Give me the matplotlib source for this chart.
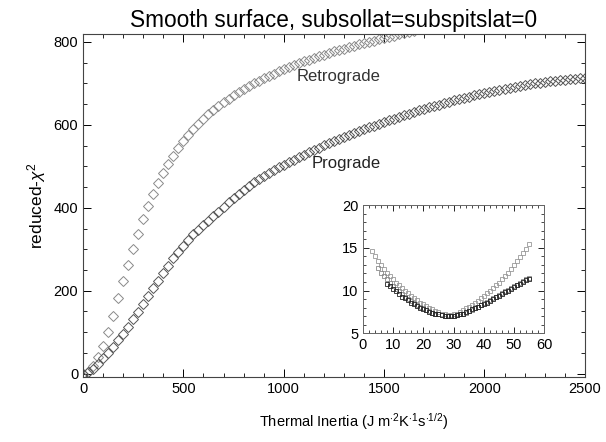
import numpy as np
import matplotlib
matplotlib.use("Agg")
import matplotlib.pyplot as plt
from matplotlib.ticker import MultipleLocator

plt.rcParams['font.family'] = ['Liberation Sans', 'DejaVu Sans']
plt.rcParams['mathtext.fontset'] = 'custom'
plt.rcParams['mathtext.rm'] = 'Liberation Sans'
plt.rcParams['mathtext.it'] = 'Liberation Sans:italic'

# Thermal inertia grid of the main panel
ti = np.arange(0, 2501, 25)

prograde = [
    0, 4, 12, 24, 38, 50, 65, 81, 96, 113,
    131, 149, 168, 187, 206, 224, 243, 260, 278, 294,
    309, 323, 336, 347, 358, 369, 380, 391, 402, 413,
    424, 434, 444, 453, 461, 469, 477, 484, 491, 498,
    504, 510, 516, 522, 528, 534, 540, 545, 551, 556,
    561, 566, 571, 576, 581, 585, 590, 594, 598, 603,
    607, 611, 615, 619, 623, 627, 631, 635, 639, 642,
    646, 649, 653, 656, 659, 662, 665, 668, 671, 674,
    677, 680, 682, 685, 687, 690, 692, 694, 696, 698,
    700, 702, 703, 705, 706, 708, 709, 710, 711, 712, 713,
]

ti_retro = np.arange(0, 1651, 25)
retrograde = [
    0, 5, 18, 40, 68, 100, 140, 183, 224, 262,
    300, 338, 372, 404, 433, 460, 485, 506, 525, 543,
    560, 575, 589, 602, 614, 625, 636, 646, 655, 663,
    671, 679, 686, 693, 700, 706, 712, 718, 723, 729,
    734, 739, 744, 748, 753, 757, 761, 765, 769, 773,
    777, 781, 784, 788, 791, 794, 797, 800, 803, 806,
    809, 812, 815, 818, 821, 823, 826,
]

# inset: low thermal inertia zoom
ti_a = np.arange(3, 56)
inset_a = [
    14.6, 14.0, 13.5, 13.0, 12.5, 12.1, 11.7, 11.3, 10.9, 10.6,
    10.3, 10.0, 9.7, 9.4, 9.1, 8.9, 8.6, 8.4, 8.2, 8.0,
    7.8, 7.6, 7.5, 7.3, 7.2, 7.1, 7.1, 7.2, 7.3, 7.5,
    7.7, 7.9, 8.1, 8.3, 8.6, 8.8, 9.1, 9.4, 9.7, 10.0,
    10.3, 10.6, 10.9, 11.3, 11.7, 12.1, 12.5, 13.0, 13.4, 13.9,
    14.4, 14.9, 15.4,
]
ti_b = np.arange(5, 56)
inset_b = [
    12.6, 12.1, 11.7, 11.3, 10.9, 10.5, 10.2, 9.9, 9.6, 9.3,
    9.0, 8.8, 8.5, 8.3, 8.1, 7.9, 7.7, 7.6, 7.4, 7.3,
    7.2, 7.1, 7.0, 7.0, 7.0, 7.0, 7.1, 7.2, 7.3, 7.4,
    7.6, 7.7, 7.9, 8.1, 8.3, 8.5, 8.7, 8.9, 9.1, 9.3,
    9.5, 9.7, 9.9, 10.1, 10.3, 10.5, 10.7, 10.9, 11.1, 11.3, 11.5,
]
ti_c = np.arange(8, 56)
inset_c = [
    10.8, 10.5, 10.2, 9.9, 9.6, 9.3, 9.1, 8.9, 8.6, 8.4,
    8.2, 8.0, 7.8, 7.7, 7.5, 7.4, 7.3, 7.2, 7.1, 7.0,
    7.0, 7.0, 7.0, 7.1, 7.2, 7.3, 7.5, 7.6, 7.8, 7.9,
    8.1, 8.3, 8.4, 8.6, 8.8, 9.0, 9.2, 9.4, 9.6, 9.8,
    10.0, 10.2, 10.4, 10.6, 10.8, 11.0, 11.2, 11.4,
]

fig = plt.figure(figsize=(6.06, 4.42), dpi=100)
ax = fig.add_axes([0.137, 0.147, 0.828, 0.777])

ax.plot(ti_retro, retrograde, ls='none', marker='D', ms=4.8, mfc='none',
        mec='#8a8a8a', mew=0.7)
ax.plot(ti, prograde, ls='none', marker='D', ms=4.8, mfc='none',
        mec='#555555', mew=0.7)

ax.text(1275, 716, 'Retrograde', fontsize=12, ha='center', va='center', color='#333333')
ax.text(1310, 508, 'Prograde', fontsize=12, ha='center', va='center', color='#222222')

ax.set_xlim(0, 2500)
ax.set_ylim(-8, 820)
ax.xaxis.set_major_locator(MultipleLocator(500))
ax.xaxis.set_minor_locator(MultipleLocator(100))
ax.yaxis.set_major_locator(MultipleLocator(200))
ax.yaxis.set_minor_locator(MultipleLocator(50))
ax.tick_params(which='both', direction='in', top=True, right=True, labelsize=10.5)
ax.tick_params(which='major', length=6, width=0.7)
ax.tick_params(which='minor', length=3, width=0.6)
for s in ax.spines.values():
    s.set_linewidth(0.8)
    s.set_color('#444444')

ax.set_title('Smooth surface, subsollat=subspitslat=0', fontsize=16.3, pad=5)
ax.set_xlabel(r'Thermal Inertia (J m$^{\cdot 2}$K$^{\cdot 1}$s$^{\cdot 1/2}$)', fontsize=10.5)
ax.xaxis.set_label_coords(0.54, -0.1)
ax.set_ylabel(r'reduced-$\chi^2$', fontsize=12.5, labelpad=4)

# inset
axi = fig.add_axes([0.599, 0.246, 0.299, 0.29])
axi.plot(ti_a, inset_a, ls='none', marker='s', ms=3.5, mfc='none', mec='#999999', mew=0.6)
axi.plot(ti_b, inset_b, ls='none', marker='s', ms=3.5, mfc='none', mec='#888888', mew=0.6)
axi.plot(ti_c, inset_c, ls='none', marker='s', ms=3.5, mfc='none', mec='#222222', mew=0.6)
axi.set_xlim(0, 60)
axi.set_ylim(5, 20)
axi.xaxis.set_major_locator(MultipleLocator(10))
axi.xaxis.set_minor_locator(MultipleLocator(2))
axi.yaxis.set_major_locator(MultipleLocator(5))
axi.yaxis.set_minor_locator(MultipleLocator(1))
axi.tick_params(which='both', direction='in', top=True, right=True, labelsize=10.5)
axi.tick_params(which='major', length=4, width=0.6)
axi.tick_params(which='minor', length=2, width=0.5)
for s in axi.spines.values():
    s.set_linewidth(0.7)
    s.set_color('#666666')

fig.savefig('out.png', dpi=100)
